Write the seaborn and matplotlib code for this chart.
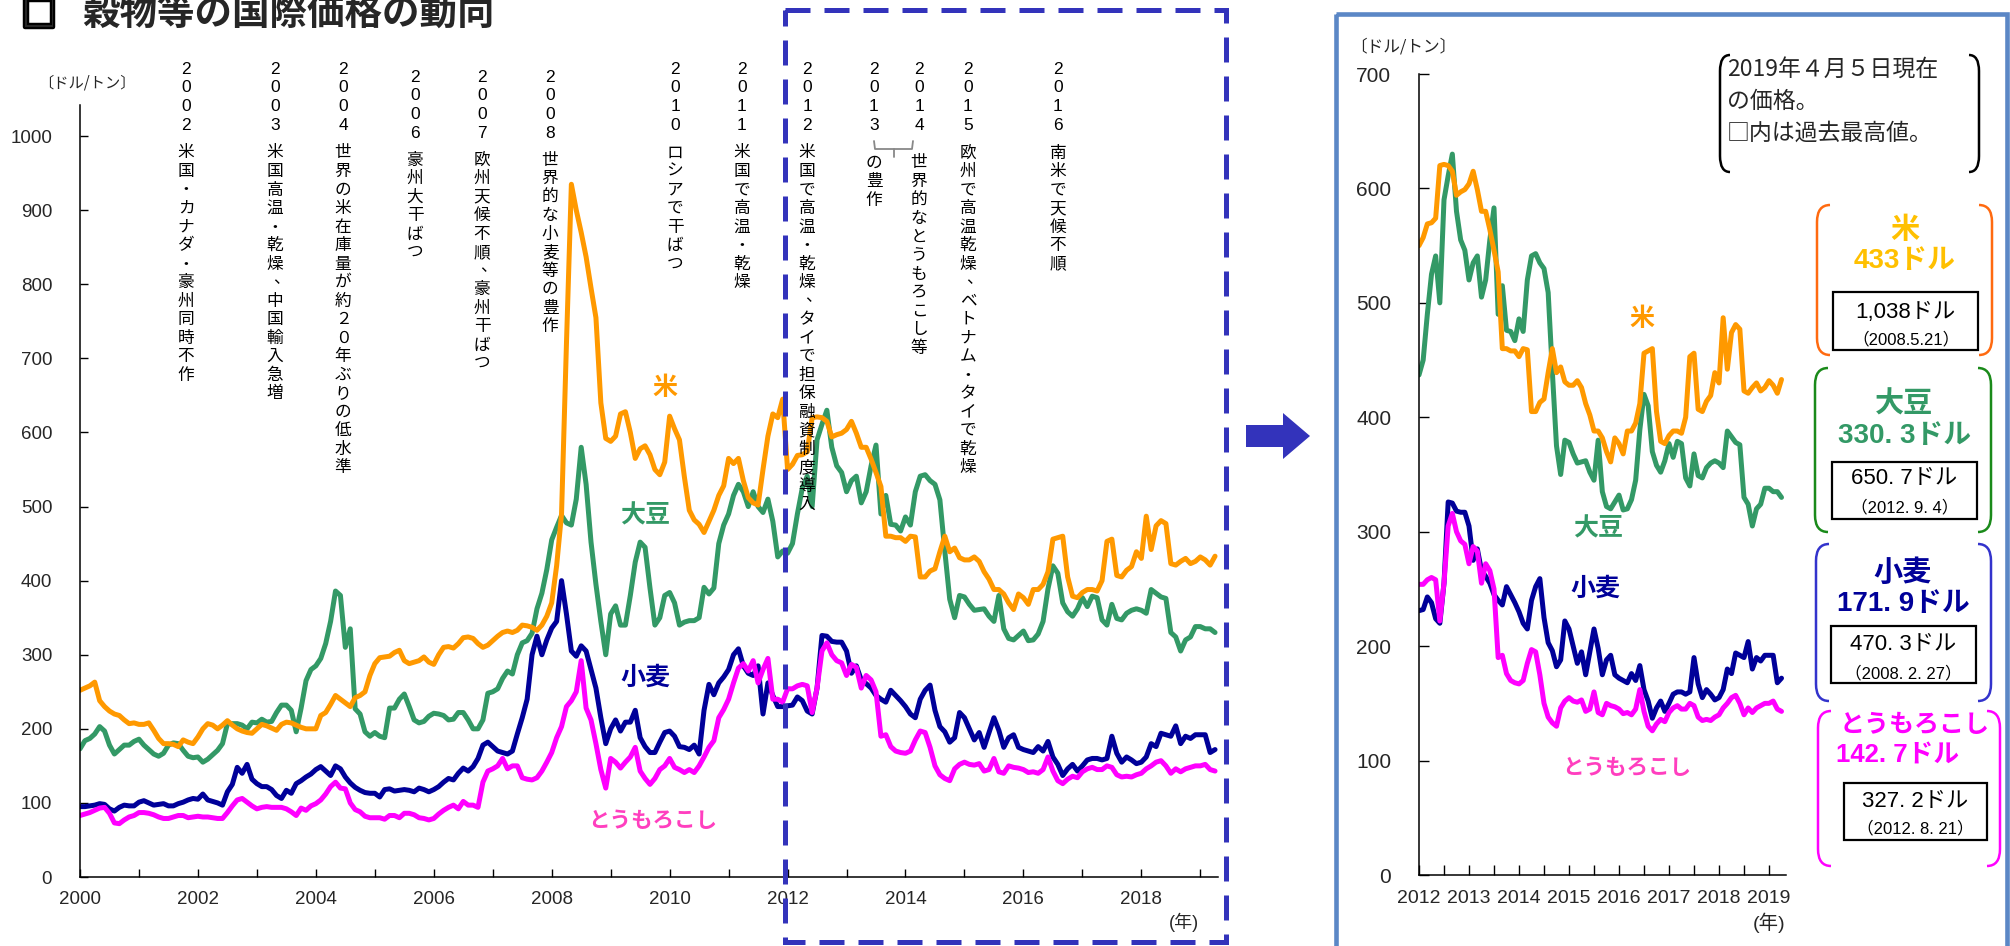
import numpy as np
import pandas as pd
import matplotlib
matplotlib.use("Agg")
import matplotlib.pyplot as plt
import matplotlib.transforms as mtransforms
import matplotlib.patheffects as pe
from matplotlib.path import Path
from matplotlib.patches import PathPatch, Polygon, Rectangle
from matplotlib.lines import Line2D
from matplotlib.ticker import MultipleLocator
import seaborn as sns

# ---------------------------------------------------------------------------
# Monthly international prices, Jan 2000 - Apr 2019 (USD per tonne)
# ---------------------------------------------------------------------------
RICE = [
    252, 255, 258, 263, 238, 230, 224, 220, 218, 212, 207, 208,   # 2000
    206, 206, 208, 198, 187, 180, 180, 179, 176, 185, 182, 180,   # 2001
    189, 200, 207, 205, 200, 205, 211, 205, 200, 197, 195, 194,   # 2002
    200, 206, 204, 201, 198, 206, 209, 208, 205, 202, 200, 200,   # 2003
    200, 218, 222, 233, 245, 240, 235, 230, 242, 245, 250, 272,   # 2004
    288, 296, 297, 298, 303, 306, 292, 288, 290, 292, 297, 290,   # 2005
    287, 300, 310, 311, 309, 315, 323, 324, 322, 315, 310, 313,   # 2006
    319, 325, 330, 332, 330, 333, 340, 339, 337, 333, 340, 352,   # 2007
    370, 420, 490, 720, 935, 900, 870, 837, 795, 755, 640, 592,   # 2008
    588, 595, 625, 628, 600, 565, 578, 582, 570, 550, 543, 560,   # 2009
    622, 605, 590, 540, 495, 482, 476, 465, 480, 495, 515, 528,   # 2010
    565, 558, 565, 535, 512, 505, 502, 550, 595, 625, 620, 645,   # 2011
    550, 557, 569, 570, 574, 620, 621, 620, 615, 594, 597, 599,   # 2012
    604, 615, 599, 580, 580, 564, 546, 527, 460, 460, 458, 458,   # 2013
    453, 460, 459, 405, 405, 413, 416, 439, 460, 439, 444, 431,   # 2014
    428, 428, 432, 426, 412, 402, 388, 388, 382, 370, 361, 382,   # 2015
    377, 368, 388, 388, 395, 412, 456, 458, 460, 405, 379, 377,   # 2016
    384, 388, 388, 386, 400, 453, 456, 407, 405, 414, 419, 439,   # 2017
    430, 487, 442, 474, 481, 477, 423, 421, 426, 430, 423, 426,   # 2018
    432, 428, 421, 433,                                           # 2019
]
SOYBEAN = [
    173, 184, 187, 193, 203, 197, 178, 166, 172, 178, 178, 183,
    186, 178, 172, 166, 163, 167, 178, 181, 180, 171, 163, 161,
    162, 155, 159, 165, 171, 180, 207, 207, 207, 205, 200, 209,
    208, 213, 209, 210, 222, 232, 232, 225, 196, 228, 265, 280,
    285, 295, 315, 345, 386, 380, 310, 335, 227, 220, 196, 190,
    195, 190, 188, 228, 228, 240, 247, 230, 212, 208, 210, 217,
    221, 220, 218, 212, 213, 222, 222, 212, 200, 200, 212, 248,
    250, 254, 268, 278, 274, 300, 316, 319, 329, 362, 383, 415,
    455, 472, 488, 478, 475, 510, 580, 530, 452, 395, 345, 300,
    355, 366, 340, 340, 380, 425, 452, 445, 390, 340, 350, 380,
    384, 370, 340, 344, 346, 346, 350, 391, 382, 390, 450, 475,
    490, 515, 530, 520, 500, 520, 500, 492, 510, 480, 432, 440,
    437, 450, 490, 525, 541, 500, 590, 611, 630, 580, 555, 546,
    520, 535, 541, 505, 520, 555, 583, 490, 515, 476, 475, 467,
    486, 475, 520, 541, 543, 535, 530, 509, 440, 375, 350, 380,
    378, 368, 360, 361, 362, 352, 345, 380, 335, 322, 320, 326,
    332, 319, 320, 328, 345, 389, 420, 410, 370, 358, 352, 362,
    377, 365, 379, 377, 347, 340, 368, 349, 347, 356, 360, 362,
    360, 356, 388, 383, 378, 376, 330, 324, 305, 320, 324, 338,
    338, 335, 335, 330,
]
WHEAT = [
    95, 95, 96, 97, 99, 98, 92, 89, 94, 97, 96, 96,
    101, 103, 100, 97, 98, 99, 96, 96, 99, 101, 104, 106,
    105, 112, 104, 102, 100, 97, 115, 125, 148, 140, 152, 132,
    126, 122, 122, 118, 110, 106, 117, 113, 126, 130, 135, 139,
    145, 149, 143, 137, 150, 146, 135, 127, 121, 117, 114, 113,
    113, 108, 118, 119, 116, 117, 118, 117, 115, 120, 118, 115,
    118, 122, 128, 133, 131, 140, 147, 143, 149, 160, 178, 182,
    176, 170, 168, 166, 170, 193, 215, 240, 300, 325, 300, 320,
    336, 345, 400, 355, 305, 298, 312, 305, 280, 255, 215, 180,
    200, 212, 197, 209, 209, 225, 188, 176, 168, 168, 182, 195,
    197, 190, 176, 175, 172, 178, 166, 225, 260, 246, 262, 270,
    280, 300, 308, 285, 275, 272, 285, 220, 262, 245, 230, 230,
    231, 232, 243, 238, 224, 220, 255, 326, 325, 318, 317, 317,
    305, 275, 285, 266, 261, 255, 245, 240, 236, 252, 245, 238,
    230, 220, 215, 240, 252, 259, 225, 203, 196, 182, 188, 222,
    215, 200, 185, 195, 175, 195, 215, 198, 175, 188, 192, 175,
    172, 170, 168, 176, 170, 183, 162, 152, 137, 146, 152, 143,
    150, 158, 160, 160, 158, 160, 190, 167, 155, 162, 158, 153,
    155, 162, 180, 176, 194, 192, 190, 204, 180, 190, 187, 192,
    192, 192, 168, 172,
]
CORN = [
    83, 85, 87, 90, 93, 94, 86, 73, 72, 77, 81, 83,
    87, 87, 86, 84, 81, 79, 79, 81, 83, 83, 80, 81,
    82, 81, 81, 80, 79, 79, 87, 96, 104, 106, 101, 96,
    92, 94, 95, 94, 94, 94, 92, 88, 83, 93, 90, 96,
    99, 104, 112, 122, 128, 120, 119, 100, 91, 88, 82, 80,
    80, 80, 78, 83, 83, 80, 86, 86, 84, 80, 79, 77,
    79, 85, 90, 94, 97, 92, 102, 97, 97, 94, 128, 143,
    146, 150, 160, 146, 150, 150, 134, 132, 131, 134, 143, 155,
    168, 188, 203, 230, 238, 250, 292, 228, 212, 180, 145, 120,
    160, 155, 147, 155, 162, 175, 143, 133, 125, 133, 145, 150,
    160, 148, 145, 141, 145, 141, 150, 162, 175, 184, 215, 226,
    240, 262, 282, 288, 278, 292, 262, 280, 295, 240, 240, 236,
    254, 254, 258, 260, 258, 222, 255, 305, 316, 300, 292, 289,
    272, 287, 283, 255, 272, 266, 250, 190, 192, 176, 170, 168,
    167, 170, 185, 197, 195, 175, 150, 138, 133, 130, 146, 152,
    155, 152, 151, 153, 143, 145, 160, 142, 140, 150, 148, 147,
    145, 141, 142, 140, 145, 162, 143, 130, 126, 132, 136, 134,
    142, 146, 148, 145, 145, 150, 148, 138, 135, 136, 135, 138,
    140, 146, 150, 155, 157, 150, 140, 146, 142, 146, 148, 150,
    150, 152, 145, 143,
]

CROPS = ["大豆", "米", "小麦", "とうもろこし"]
SERIES = {"米": RICE, "大豆": SOYBEAN, "小麦": WHEAT, "とうもろこし": CORN}

# latest quote (5 Apr 2019) and record high for each crop
LATEST = {"米": "433ドル", "大豆": "330. 3ドル", "小麦": "171. 9ドル", "とうもろこし": "142. 7ドル"}
RECORD = {"米": "1,038ドル", "大豆": "650. 7ドル", "小麦": "470. 3ドル", "とうもろこし": "327. 2ドル"}
RECORD_DATE = {"米": "（2008.5.21）", "大豆": "（2012. 9. 4）",
               "小麦": "（2008. 2. 27）", "とうもろこし": "（2012. 8. 21）"}

# market events written down the top of the long-run chart
EVENT_YEARS = ["2002", "2003", "2004", "2006", "2007", "2008", "2010",
               "2011", "2012", "2013", "2014", "2015", "2016"]
EVENT_TEXTS = [
    "米国・カナダ・豪州同時不作",
    "米国高温・乾燥、中国輸入急増",
    "世界の米在庫量が約２０年ぶりの低水準",
    "豪州大干ばつ",
    "欧州天候不順、豪州干ばつ",
    "世界的な小麦等の豊作",
    "ロシアで干ばつ",
    "米国で高温・乾燥",
    "米国で高温・乾燥、タイで担保融資制度導入",
    "の豊作",
    "世界的なとうもろこし等",
    "欧州で高温乾燥、ベトナム・タイで乾燥",
    "南米で天候不順",
]

# ---------------------------------------------------------------------------
# styling / layout
# ---------------------------------------------------------------------------
COLORS = {"米": "#FF9900", "大豆": "#339966", "小麦": "#000099", "とうもろこし": "#FF00FF"}
LABEL_COLORS = {"米": "#FF9900", "大豆": "#339966", "小麦": "#000099", "とうもろこし": "#FF3FBF"}
BOX_TEXT_COLORS = {"米": "#FFC000", "大豆": "#339966", "小麦": "#000099", "とうもろこし": "#FF00FF"}
BRACKET_COLORS = {"米": "#FF6A10", "大豆": "#1A8A1A", "小麦": "#3333CC", "とうもろこし": "#FF00FF"}
JP = ["Noto Sans CJK JP", "DejaVu Sans"]
LAT = ["Liberation Sans", "Noto Sans CJK JP", "DejaVu Sans"]

sns.set_theme(style="white")
plt.rcParams["font.family"] = LAT
plt.rcParams["axes.unicode_minus"] = False

W, H = 2010, 946
fig = plt.figure(figsize=(W / 100, H / 100), dpi=100)
fig.patch.set_facecolor("white")
# pixel coordinates measured from the top-left corner
px = mtransforms.Affine2D().scale(1 / W, -1 / H).translate(0, 1) + fig.transFigure

n = len(RICE)
years = 2000 + np.arange(n) / 12.0
df = pd.DataFrame({
    "year": np.tile(years, len(CROPS)),
    "price": np.concatenate([SERIES[c] for c in CROPS]),
    "crop": np.repeat(CROPS, n),
})


def style_axes(ax):
    sns.despine(ax=ax)
    for s in ("left", "bottom"):
        ax.spines[s].set_color("black")
        ax.spines[s].set_linewidth(1.1)
    ax.set_xlabel("")
    ax.set_ylabel("")
    ax.grid(False)


# ---------------- long-run chart 2000-2019 ----------------
axL = fig.add_axes([80 / W, 1 - 877 / H, (1218 - 80) / W, (877 - 105) / H])
axL.set_facecolor("none")
sns.lineplot(data=df, x="year", y="price", hue="crop", hue_order=CROPS,
             palette=COLORS, linewidth=3.6, legend=False, estimator=None,
             ax=axL)
axL.set_xlim(2000, 2019.3)
axL.set_ylim(0, 1042)
axL.set_yticks(range(0, 1001, 100))
axL.set_xticks(range(2000, 2019, 2))
axL.xaxis.set_minor_locator(MultipleLocator(1))
style_axes(axL)
axL.tick_params(axis="both", which="both", direction="in", color="black",
                width=1, length=6, bottom=True, left=True)
axL.tick_params(axis="y", pad=20, labelsize=13.5)
axL.tick_params(axis="x", pad=10, labelsize=13.5)

# ---------------- recent chart 2012-2019 ----------------
axR = fig.add_axes([1419 / W, 1 - 875 / H, (1786 - 1419) / W, (875 - 74) / H])
axR.set_facecolor("none")
sns.lineplot(data=df[df["year"] >= 2012], x="year", y="price", hue="crop",
             hue_order=CROPS, palette=COLORS, linewidth=3.6, legend=False,
             estimator=None, ax=axR)
axR.set_xlim(2012, 2019.34)
axR.set_ylim(0, 700)
axR.set_yticks(range(0, 701, 100))
axR.set_xticks(range(2012, 2020))
axR.xaxis.set_minor_locator(MultipleLocator(0.5))
style_axes(axR)
axR.tick_params(axis="both", which="both", direction="in", color="black",
                width=1, length=7, bottom=True, left=True)
axR.tick_params(axis="y", pad=20, labelsize=15)
axR.tick_params(axis="x", pad=11, labelsize=14)


# ---------------- helpers ----------------
def ftext(x, y, s, **kw):
    kw.setdefault("transform", px)
    return fig.text(x, y, s, **kw)


def paren_box(x0, y0, x1, y1, color, rx=13, ry=17, lw=1.7):
    for xe, xi in ((x0, x0 + rx), (x1, x1 - rx)):
        verts = [(xi, y0), (xe, y0), (xe, y0 + ry), (xe, y1 - ry), (xe, y1), (xi, y1)]
        codes = [Path.MOVETO, Path.CURVE3, Path.CURVE3, Path.LINETO,
                 Path.CURVE3, Path.CURVE3]
        fig.add_artist(PathPatch(Path(verts, codes), fill=False,
                                 edgecolor=color, lw=lw, transform=px))


def vertical_text(x, y_digits, y_text, year, text, pitch=18.5):
    y = y_digits
    for ch in year:
        ftext(x, y, ch, ha="center", va="center", fontsize=12.5,
              family=["Liberation Sans"], color="black")
        y += 18.7
    y = y_text
    for ch in text:
        dx = dy = 0
        if ch in "、。":
            dx, dy = 6, -4
        ftext(x + dx, y + dy, ch, ha="center", va="center", fontsize=12,
              family=JP, color="black")
        y += pitch


# ---------------- title ----------------
ftext(22, 26, "□", ha="left", va="baseline", fontsize=25, family=JP,
      fontweight="bold",
      path_effects=[pe.withStroke(linewidth=3.2, foreground="black")])
ftext(82, 24.5, "穀物等の国際価格の動向", ha="left", va="baseline",
      fontsize=27, family=JP, fontweight="bold")

# ---------------- unit / year labels ----------------
ftext(87, 83, "〔ドル/トン〕", ha="center", va="center", fontsize=11, family=JP)
ftext(1184, 922, "(年)", ha="center", va="center", fontsize=13, family=LAT)
ftext(1403, 47, "〔ドル/トン〕", ha="center", va="center", fontsize=12, family=JP)
ftext(1769, 923, "(年)", ha="center", va="center", fontsize=14, family=LAT)

# ---------------- events ----------------
EVENT_X = [186, 275, 343, 415, 482, 550, 675, 742, 807, 874, 919, 968, 1058]
for yr, txt, x in zip(EVENT_YEARS, EVENT_TEXTS, EVENT_X):
    low = yr in ("2006", "2007", "2008")
    y_dig = 77 if low else 69
    if low:
        y_txt = 160
    elif yr in ("2013", "2014"):
        y_txt = 163
    else:
        y_txt = 153
    vertical_text(x, y_dig, y_txt, yr, txt)

# bracket joining 2013 and 2014
fig.add_artist(Line2D([874, 875, 912, 913], [141, 149, 149, 141],
                      color="#888888", lw=1.3, transform=px))
fig.add_artist(Line2D([893.5, 893.5], [149, 157], color="#888888", lw=1.3,
                      transform=px))

# ---------------- series names on the charts ----------------
LEFT_LABEL_POS = {"米": (665, 388), "大豆": (645, 515), "小麦": (645, 678),
                  "とうもろこし": (653, 820)}
RIGHT_LABEL_POS = {"米": (1642, 319), "大豆": (1598, 528), "小麦": (1595, 589),
                   "とうもろこし": (1627, 767)}
LABEL_SIZE = {"米": 18, "大豆": 18, "小麦": 18, "とうもろこし": 15.5}
for crop in CROPS:
    for pos in (LEFT_LABEL_POS[crop], RIGHT_LABEL_POS[crop]):
        ftext(pos[0], pos[1], crop, ha="center", va="center",
              fontsize=LABEL_SIZE[crop], family=JP, fontweight="bold",
              color=LABEL_COLORS[crop])

# ---------------- zoom frame and arrow ----------------
fig.add_artist(Rectangle((785, 10), 1226 - 785, 942 - 10, fill=False,
                         edgecolor="#3333BB", lw=3.6, linestyle=(0, (5, 2.8)),
                         transform=px))
fig.add_artist(Polygon([(1246, 425), (1283, 425), (1283, 413), (1310, 436),
                        (1283, 459), (1283, 447), (1246, 447)], closed=True,
                       facecolor="#3333BB", edgecolor="none", transform=px))
fig.add_artist(Rectangle((1336, 14), 2007 - 1336, 960 - 14, fill=False,
                         edgecolor="#5B87C6", lw=3.3, transform=px))

# ---------------- note ----------------
paren_box(1720, 55, 1979, 172, "black", rx=10, ry=16, lw=1.8)
for i, line in enumerate(["2019年４月５日現在", "の価格。", "□内は過去最高値。"]):
    ftext(1727, 70 + i * 31.5, line, ha="left", va="center", fontsize=16.5,
          family=JP)

# ---------------- price boxes ----------------
BOXES = {
    # bracket box, inner record box, text rows (name, latest, record, date)
    "米": dict(outer=(1817, 205, 1992, 355), inner=(1833, 292, 1978, 350),
              rows=(229, 261, 312, 339), cx=1905),
    "大豆": dict(outer=(1815, 368, 1991, 532), inner=(1832, 462, 1977, 519),
               rows=(404, 436, 478, 507), cx=1904),
    "小麦": dict(outer=(1816, 544, 1991, 701), inner=(1831, 626, 1976, 683),
               rows=(572, 604, 644, 673), cx=1903),
    "とうもろこし": dict(outer=(1818, 711, 2000, 866), inner=(1844, 783, 1987, 840),
                   rows=(725, 756, 801, 828), cx=1915),
}
for crop in ["米", "大豆", "小麦", "とうもろこし"]:
    b = BOXES[crop]
    x0, y0, x1, y1 = b["outer"]
    paren_box(x0, y0, x1, y1, BRACKET_COLORS[crop], lw=1.8)
    ix0, iy0, ix1, iy1 = b["inner"]
    fig.add_artist(Rectangle((ix0, iy0), ix1 - ix0, iy1 - iy0, fill=False,
                             edgecolor="black", lw=1.6, transform=px))
    r_name, r_latest, r_rec, r_date = b["rows"]
    cx = b["cx"]
    icx = (ix0 + ix1) / 2
    if crop == "とうもろこし":
        ftext(cx, r_name, crop, ha="center", va="center", fontsize=18,
              family=JP, fontweight="bold", color=BOX_TEXT_COLORS[crop])
        ftext(1836, r_latest, LATEST[crop], ha="left", va="center",
              fontsize=18.5, family=LAT, fontweight="bold",
              color=BOX_TEXT_COLORS[crop])
    else:
        ftext(cx, r_name, crop, ha="center", va="center", fontsize=21,
              family=JP, fontweight="bold", color=BOX_TEXT_COLORS[crop])
        ftext(cx, r_latest, LATEST[crop], ha="center", va="center",
              fontsize=20, family=LAT, fontweight="bold",
              color=BOX_TEXT_COLORS[crop])
    ftext(icx, r_rec, RECORD[crop], ha="center", va="center", fontsize=16,
          family=LAT, color="black")
    ftext(icx, r_date, RECORD_DATE[crop], ha="center", va="center",
          fontsize=12, family=LAT, color="black")

fig.savefig("out.png", dpi=100, facecolor="white")
